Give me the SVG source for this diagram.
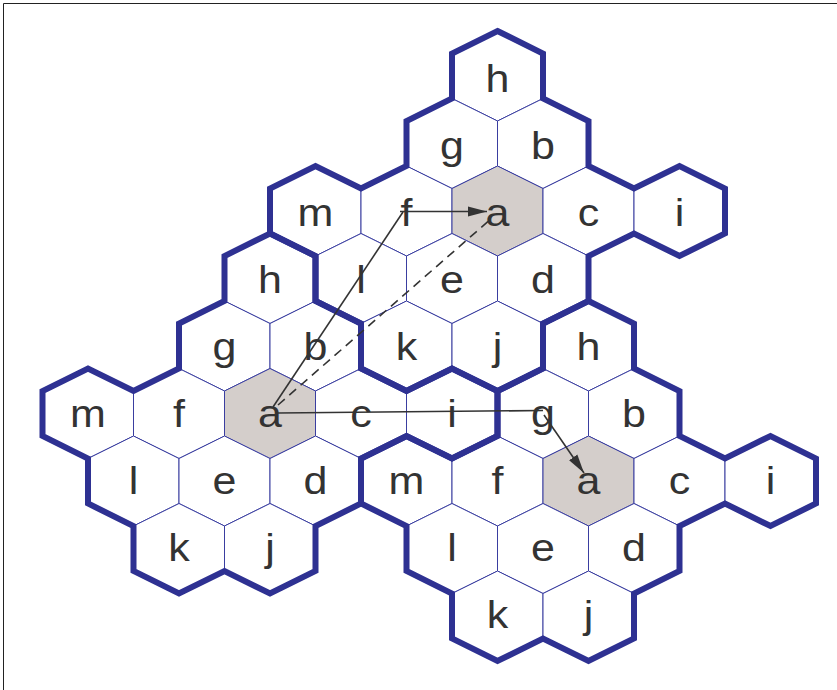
<svg xmlns="http://www.w3.org/2000/svg" xmlns:xlink="http://www.w3.org/1999/xlink" width="837" height="690" viewBox="0 0 837 690">
<style>
.cell{fill:#ffffff;stroke:#3a3ea0;stroke-width:1}
.cell.hl{fill:#d4cecb}
.lbl{font-family:"Liberation Sans",Arial,Helvetica,sans-serif;font-size:43px;fill:#333333;text-anchor:middle}
.outline{fill:none;stroke:#2e3192;stroke-width:6;stroke-linejoin:miter;stroke-miterlimit:4}
.conn{stroke:#333333;stroke-width:1.6;fill:none}
.dash{stroke-dasharray:9 6}
.frame{fill:none;stroke:#222222;stroke-width:1}
</style>
<defs>
<path id="hex" d="M0,-45 L45.5,-22.5 L45.5,22.5 L0,45 L-45.5,22.5 L-45.5,-22.5 Z"/>
<path id="flower" d="M0,-180 L45.5,-157.5 L45.5,-112.5 L91,-90 L91,-45 L136.5,-22.5 L182,-45 L227.5,-22.5 L227.5,22.5 L182,45 L136.5,22.5 L91,45 L91,90 L45.5,112.5 L45.5,157.5 L0,180 L-45.5,157.5 L-91,180 L-136.5,157.5 L-136.5,112.5 L-182,90 L-182,45 L-227.5,22.5 L-227.5,-22.5 L-182,-45 L-136.5,-22.5 L-91,-45 L-91,-90 L-45.5,-112.5 L-45.5,-157.5 Z"/>
<marker id="arr" markerUnits="userSpaceOnUse" markerWidth="20" markerHeight="11" refX="19" refY="5" orient="auto" viewBox="0 0 20 10">
<path d="M0,0 L19,5 L0,10 Z" fill="#333333"/>
</marker>
</defs>
<path class="frame" d="M3.5,690 V3.5 H837"/>
<g id="nodes">
<!-- cluster 1 -->
<g id="c1-h"><use xlink:href="#hex" href="#hex" class="cell" x="497.5" y="76"/><text class="lbl" transform="translate(497.5,92) scale(1,0.91)">h</text></g>
<g id="c1-g"><use xlink:href="#hex" href="#hex" class="cell" x="452" y="143.5"/><text class="lbl" transform="translate(452,159) scale(1,0.91)">g</text></g>
<g id="c1-b"><use xlink:href="#hex" href="#hex" class="cell" x="543" y="143.5"/><text class="lbl" transform="translate(543,159) scale(1,0.91)">b</text></g>
<g id="c1-m"><use xlink:href="#hex" href="#hex" class="cell" x="315.5" y="211"/><text class="lbl" transform="translate(315.5,226) scale(1,0.91)">m</text></g>
<g id="c1-f"><use xlink:href="#hex" href="#hex" class="cell" x="406.5" y="211"/><text class="lbl" transform="translate(406.5,226) scale(1,0.91)">f</text></g>
<g id="c1-a"><use xlink:href="#hex" href="#hex" class="cell hl" x="497.5" y="211"/><text class="lbl" transform="translate(497.5,226) scale(1,0.91)">a</text></g>
<g id="c1-c"><use xlink:href="#hex" href="#hex" class="cell" x="588.5" y="211"/><text class="lbl" transform="translate(588.5,226) scale(1,0.91)">c</text></g>
<g id="c1-i"><use xlink:href="#hex" href="#hex" class="cell" x="679.5" y="211"/><text class="lbl" transform="translate(679.5,226) scale(1,0.91)">i</text></g>
<g id="c1-l"><use xlink:href="#hex" href="#hex" class="cell" x="361" y="278.5"/><text class="lbl" transform="translate(361,293) scale(1,0.91)">l</text></g>
<g id="c1-e"><use xlink:href="#hex" href="#hex" class="cell" x="452" y="278.5"/><text class="lbl" transform="translate(452,293) scale(1,0.91)">e</text></g>
<g id="c1-d"><use xlink:href="#hex" href="#hex" class="cell" x="543" y="278.5"/><text class="lbl" transform="translate(543,293) scale(1,0.91)">d</text></g>
<g id="c1-k"><use xlink:href="#hex" href="#hex" class="cell" x="406.5" y="346"/><text class="lbl" transform="translate(406.5,360) scale(1,0.91)">k</text></g>
<g id="c1-j"><use xlink:href="#hex" href="#hex" class="cell" x="497.5" y="346"/><text class="lbl" transform="translate(497.5,360) scale(1,0.91)">j</text></g>
<!-- cluster 2 -->
<g id="c2-h"><use xlink:href="#hex" href="#hex" class="cell" x="270" y="278.5"/><text class="lbl" transform="translate(270,293) scale(1,0.91)">h</text></g>
<g id="c2-g"><use xlink:href="#hex" href="#hex" class="cell" x="224.5" y="346"/><text class="lbl" transform="translate(224.5,360) scale(1,0.91)">g</text></g>
<g id="c2-b"><use xlink:href="#hex" href="#hex" class="cell" x="315.5" y="346"/><text class="lbl" transform="translate(315.5,360) scale(1,0.91)">b</text></g>
<g id="c2-m"><use xlink:href="#hex" href="#hex" class="cell" x="88" y="413.5"/><text class="lbl" transform="translate(88,427) scale(1,0.91)">m</text></g>
<g id="c2-f"><use xlink:href="#hex" href="#hex" class="cell" x="179" y="413.5"/><text class="lbl" transform="translate(179,427) scale(1,0.91)">f</text></g>
<g id="c2-a"><use xlink:href="#hex" href="#hex" class="cell hl" x="270" y="413.5"/><text class="lbl" transform="translate(270,427) scale(1,0.91)">a</text></g>
<g id="c2-c"><use xlink:href="#hex" href="#hex" class="cell" x="361" y="413.5"/><text class="lbl" transform="translate(361,427) scale(1,0.91)">c</text></g>
<g id="c2-i"><use xlink:href="#hex" href="#hex" class="cell" x="452" y="413.5"/><text class="lbl" transform="translate(452,427) scale(1,0.91)">i</text></g>
<g id="c2-l"><use xlink:href="#hex" href="#hex" class="cell" x="133.5" y="481"/><text class="lbl" transform="translate(133.5,494) scale(1,0.91)">l</text></g>
<g id="c2-e"><use xlink:href="#hex" href="#hex" class="cell" x="224.5" y="481"/><text class="lbl" transform="translate(224.5,494) scale(1,0.91)">e</text></g>
<g id="c2-d"><use xlink:href="#hex" href="#hex" class="cell" x="315.5" y="481"/><text class="lbl" transform="translate(315.5,494) scale(1,0.91)">d</text></g>
<g id="c2-k"><use xlink:href="#hex" href="#hex" class="cell" x="179" y="548.5"/><text class="lbl" transform="translate(179,561) scale(1,0.91)">k</text></g>
<g id="c2-j"><use xlink:href="#hex" href="#hex" class="cell" x="270" y="548.5"/><text class="lbl" transform="translate(270,561) scale(1,0.91)">j</text></g>
<!-- cluster 3 -->
<g id="c3-h"><use xlink:href="#hex" href="#hex" class="cell" x="588.5" y="346"/><text class="lbl" transform="translate(588.5,360) scale(1,0.91)">h</text></g>
<g id="c3-g"><use xlink:href="#hex" href="#hex" class="cell" x="543" y="413.5"/><text class="lbl" transform="translate(543,427) scale(1,0.91)">g</text></g>
<g id="c3-b"><use xlink:href="#hex" href="#hex" class="cell" x="634" y="413.5"/><text class="lbl" transform="translate(634,427) scale(1,0.91)">b</text></g>
<g id="c3-m"><use xlink:href="#hex" href="#hex" class="cell" x="406.5" y="481"/><text class="lbl" transform="translate(406.5,494) scale(1,0.91)">m</text></g>
<g id="c3-f"><use xlink:href="#hex" href="#hex" class="cell" x="497.5" y="481"/><text class="lbl" transform="translate(497.5,494) scale(1,0.91)">f</text></g>
<g id="c3-a"><use xlink:href="#hex" href="#hex" class="cell hl" x="588.5" y="481"/><text class="lbl" transform="translate(588.5,494) scale(1,0.91)">a</text></g>
<g id="c3-c"><use xlink:href="#hex" href="#hex" class="cell" x="679.5" y="481"/><text class="lbl" transform="translate(679.5,494) scale(1,0.91)">c</text></g>
<g id="c3-i"><use xlink:href="#hex" href="#hex" class="cell" x="770.5" y="481"/><text class="lbl" transform="translate(770.5,494) scale(1,0.91)">i</text></g>
<g id="c3-l"><use xlink:href="#hex" href="#hex" class="cell" x="452" y="548.5"/><text class="lbl" transform="translate(452,561) scale(1,0.91)">l</text></g>
<g id="c3-e"><use xlink:href="#hex" href="#hex" class="cell" x="543" y="548.5"/><text class="lbl" transform="translate(543,561) scale(1,0.91)">e</text></g>
<g id="c3-d"><use xlink:href="#hex" href="#hex" class="cell" x="634" y="548.5"/><text class="lbl" transform="translate(634,561) scale(1,0.91)">d</text></g>
<g id="c3-k"><use xlink:href="#hex" href="#hex" class="cell" x="497.5" y="616"/><text class="lbl" transform="translate(497.5,628) scale(1,0.91)">k</text></g>
<g id="c3-j"><use xlink:href="#hex" href="#hex" class="cell" x="588.5" y="616"/><text class="lbl" transform="translate(588.5,628) scale(1,0.91)">j</text></g>
</g>
<g id="cluster-outlines">
<use xlink:href="#flower" href="#flower" class="outline" x="497.5" y="211"/>
<use xlink:href="#flower" href="#flower" class="outline" x="270" y="413.5"/>
<use xlink:href="#flower" href="#flower" class="outline" x="588.5" y="481"/>
</g>
<g id="connectors">
<line class="conn" x1="273" y1="407" x2="403" y2="212"/>
<line class="conn" x1="400" y1="211.5" x2="487" y2="211.5" marker-end="url(#arr)"/>
<line class="conn dash" x1="278" y1="405" x2="492" y2="218"/>
<line class="conn" x1="278" y1="413" x2="543" y2="410.5"/>
<line class="conn" x1="544" y1="415" x2="584" y2="473" marker-end="url(#arr)"/>
</g>
</svg>
